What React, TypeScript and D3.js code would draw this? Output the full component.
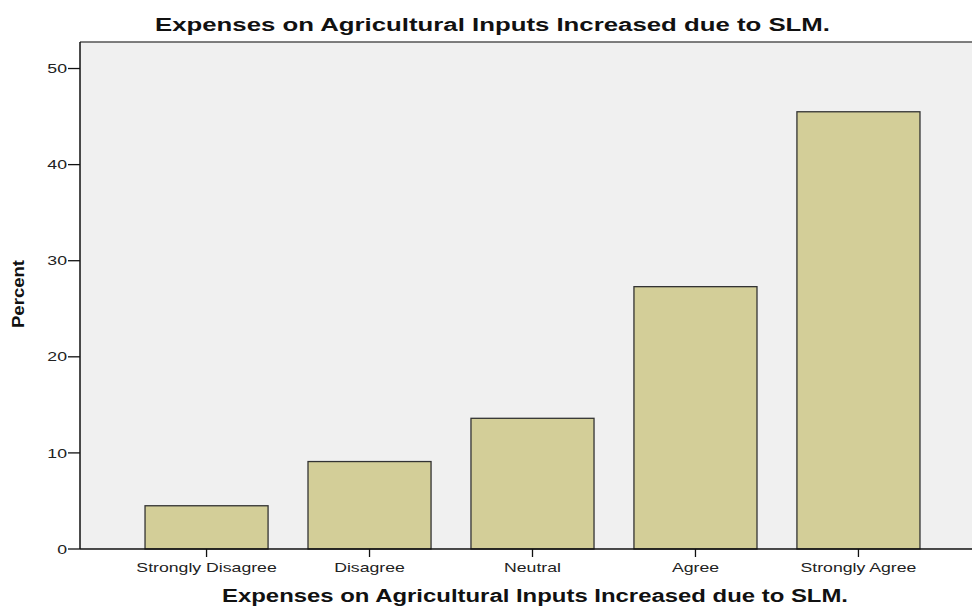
import React from "react";
import * as d3 from "d3";

const categories = ["Strongly Disagree", "Disagree", "Neutral", "Agree", "Strongly Agree"];
const percents = [4.5, 9.1, 13.6, 27.3, 45.5];
const yTicks = [0, 10, 20, 30, 40, 50];
const chartTitle = "Expenses on Agricultural Inputs Increased due to SLM.";
const xTitle = "Expenses on Agricultural Inputs Increased due to SLM.";
const yTitle = "Percent";

export default function App() {
  const W = 972, H = 606;
  const left = 80, top = 42, bottom = 549, right = 985;
  const sx = 1.36;
  const x = d3.scaleBand<string>().domain(categories).range([left, right]).paddingInner(0.245).paddingOuter(0.399);
  const y = d3.scaleLinear().domain([0, 52.76]).range([bottom, top]);
  const font = "Arial, 'Liberation Sans', sans-serif";
  return (
    <svg width={W} height={H} style={{ position: "absolute", left: 0, top: 0, background: "#fff" }}>
      <rect x={left} y={top} width={right - left} height={bottom - top} fill="#f0f0f0" />
      <line x1={left} x2={right} y1={top} y2={top} stroke="#555" strokeWidth={1.5} />
      {categories.map((c, i) => (
        <rect key={c} x={x(c)} y={y(percents[i])} width={x.bandwidth()} height={bottom - y(percents[i])}
          fill="#d3ce98" stroke="#333" strokeWidth={1.3} />
      ))}
      <line x1={left} x2={left} y1={top} y2={bottom} stroke="#111" strokeWidth={1.5} />
      <line x1={left} x2={right} y1={bottom} y2={bottom} stroke="#111" strokeWidth={1.5} />
      {yTicks.map(t => (
        <g key={t}>
          <line x1={left - 12} x2={left} y1={y(t)} y2={y(t)} stroke="#111" strokeWidth={1.3} />
          <g transform={`translate(${left - 13},${y(t)}) scale(${sx},1)`}>
            <text x={0} y={0} dy="0.36em" textAnchor="end" fontFamily={font} fontSize={13} fill="#222">{t}</text>
          </g>
        </g>
      ))}
      {categories.map(c => {
        const cx = x(c)! + x.bandwidth() / 2;
        return (
          <g key={c}>
            <line x1={cx} x2={cx} y1={bottom} y2={bottom + 8} stroke="#111" strokeWidth={1.3} />
            <g transform={`translate(${cx},${bottom + 23}) scale(${sx},1)`}>
              <text x={0} y={0} textAnchor="middle" fontFamily={font} fontSize={13} fill="#222">{c}</text>
            </g>
          </g>
        );
      })}
      <text x={492.5} y={31} textAnchor="middle" fontFamily={font} fontWeight="bold" fontSize={18} fill="#111"
        textLength={675} lengthAdjust="spacingAndGlyphs">{chartTitle}</text>
      <text x={535} y={601.5} textAnchor="middle" fontFamily={font} fontWeight="bold" fontSize={18} fill="#111"
        textLength={626} lengthAdjust="spacingAndGlyphs">{xTitle}</text>
      <text transform={`translate(24,294) rotate(-90)`} textAnchor="middle" fontFamily={font} fontWeight="bold" fontSize={16} fill="#111"
        textLength={68} lengthAdjust="spacingAndGlyphs">{yTitle}</text>
    </svg>
  );
}
